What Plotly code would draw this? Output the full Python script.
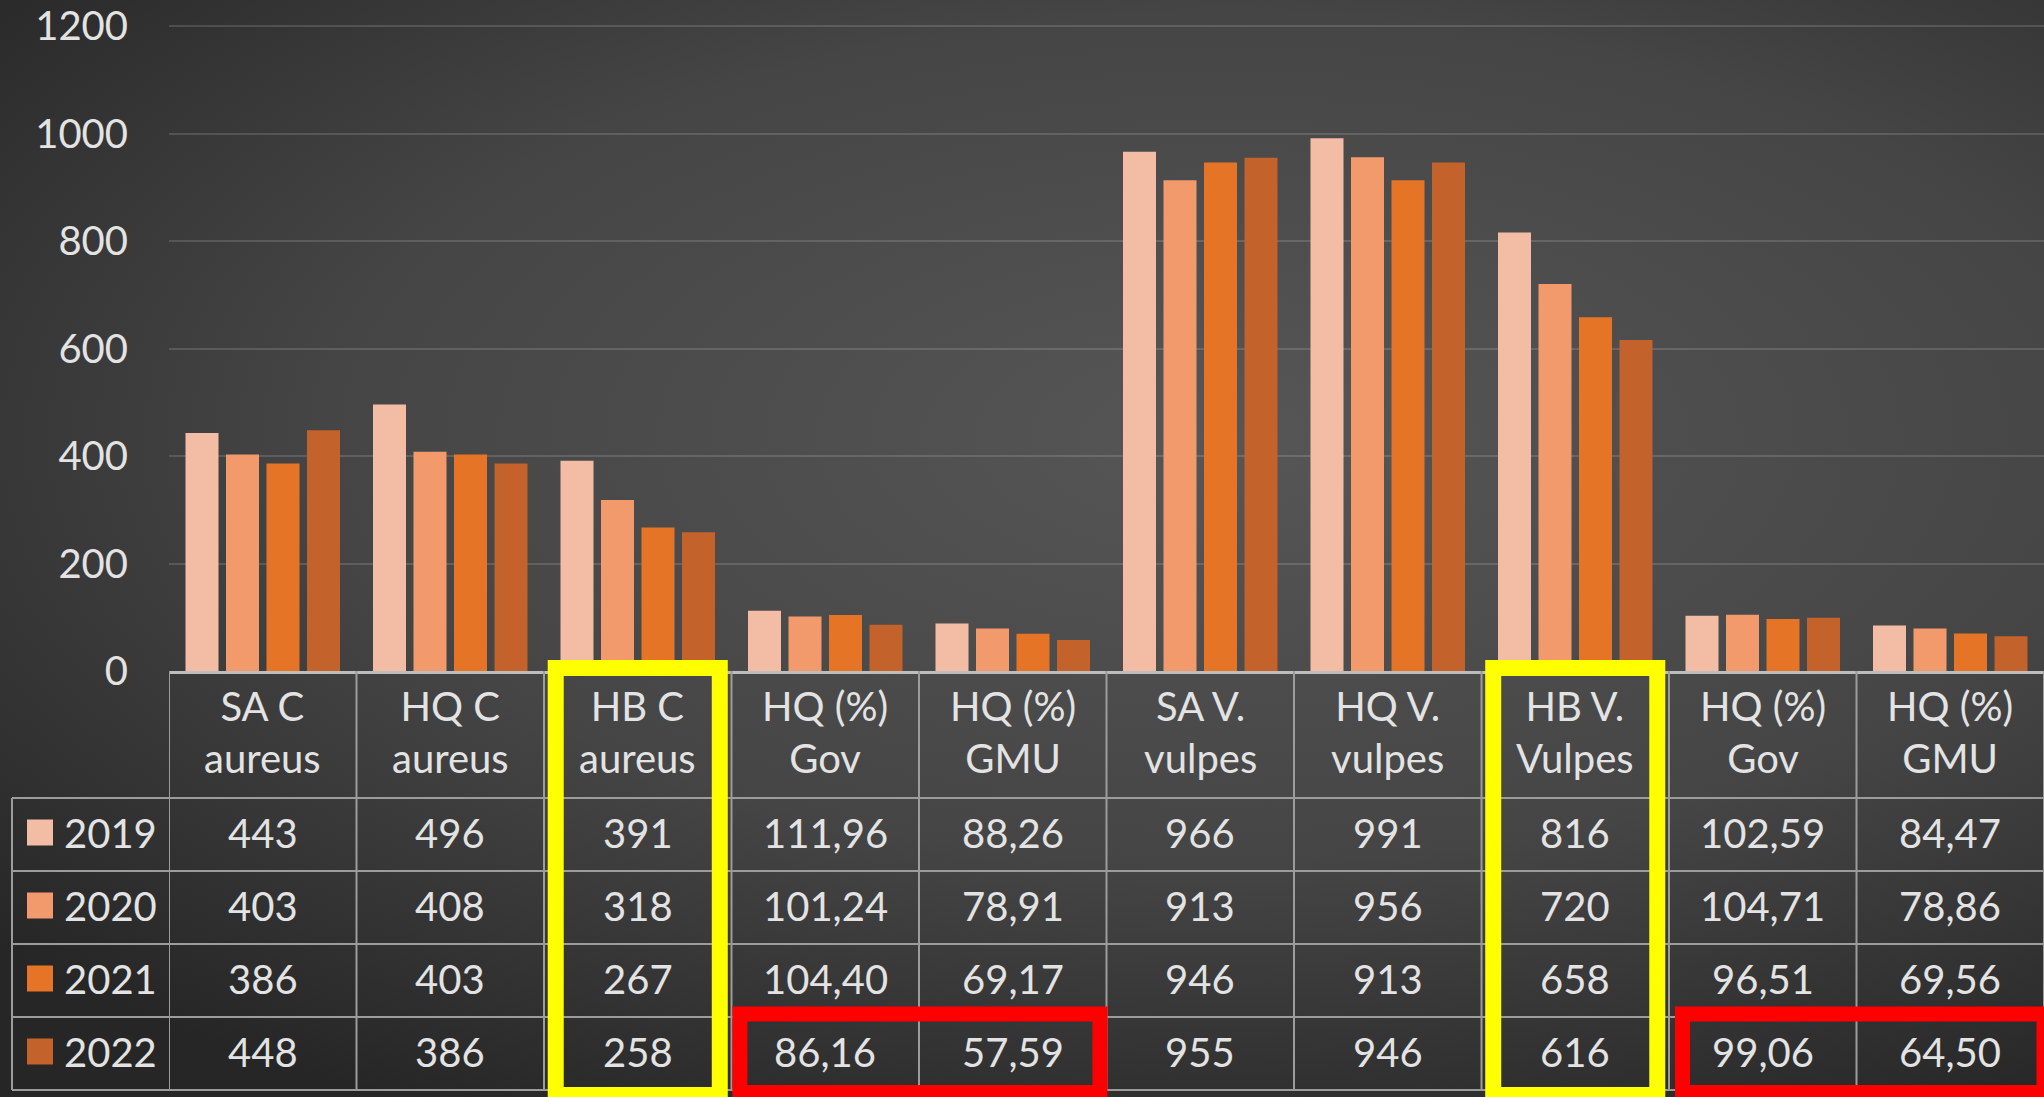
import plotly.graph_objects as go

# ---------------- data ----------------
categories = ["SA C<br>aureus", "HQ C<br>aureus", "HB C<br>aureus", "HQ (%)<br>Gov", "HQ (%)<br>GMU",
              "SA V.<br>vulpes", "HQ V.<br>vulpes", "HB V.<br>Vulpes", "HQ (%)<br>Gov", "HQ (%)<br>GMU"]
decimals = [0, 0, 0, 2, 2, 0, 0, 0, 2, 2]
years = ["2019", "2020", "2021", "2022"]
v2019 = [443, 496, 391, 111.96, 88.26, 966, 991, 816, 102.59, 84.47]
v2020 = [403, 408, 318, 101.24, 78.91, 913, 956, 720, 104.71, 78.86]
v2021 = [386, 403, 267, 104.40, 69.17, 946, 913, 658, 96.51, 69.56]
v2022 = [448, 386, 258, 86.16, 57.59, 955, 946, 616, 99.06, 64.50]
series = [v2019, v2020, v2021, v2022]
y_ticks = [0, 200, 400, 600, 800, 1000, 1200]
y_max = 1205
yellow_cols = [2, 7]

# ---------------- style ----------------
W, H = 2044, 1097
colors = ["#F3BDA5", "#F29A6C", "#E57427", "#C3622B"]
FONT = "Lato, 'Open Sans', sans-serif"
TXT = "#E3E3E3"
GRIDC = "#9C9C9C"
ZERO_PX, TOP_PX = 671, 26          # pixel rows of 0 and 1200
PX_PER_UNIT = (ZERO_PX - TOP_PX) / 1200


def py(p):
    return 1 - p / H


def px(p):
    return p / W


def fmt(v, d):
    if d == 0:
        return str(int(round(v)))
    return f"{v:.{d}f}".replace(".", ",")


fig = go.Figure()

# background gradient (separate full-page subplot)
fig.add_trace(go.Scatter(
    x=[-0.2, 1.4, 1.4, -0.2, -0.2], y=[-0.1, -0.1, 1.3, 1.3, -0.1],
    mode="lines", line=dict(width=0), fill="toself", fillcolor="#3c3c3c",
    fillgradient=dict(type="radial", colorscale=[[0, "#565656"], [0.55, "#454545"], [1, "#262626"]]),
    hoverinfo="skip", showlegend=False, xaxis="x", yaxis="y"))

x_idx = list(range(len(categories)))
for yr, vals, c in zip(years, series, colors):
    fig.add_trace(go.Bar(x=x_idx, y=vals, name=yr, marker=dict(color=c, line=dict(width=0)),
                         xaxis="x2", yaxis="y2", showlegend=False))

shapes = []
annotations = []

# table geometry (pixels)
header_top, header_bot = 671, 798
row_edges = [798, 871, 944, 1017, 1090]
left_px = 12

for e in row_edges:
    shapes.append(dict(type="line", xref="paper", yref="paper", x0=px(left_px), x1=1,
                       y0=py(e), y1=py(e), line=dict(color=GRIDC, width=2)))
for i in range(len(categories) + 1):
    shapes.append(dict(type="line", xref="x2", yref="paper", x0=i - 0.5, x1=i - 0.5,
                       y0=py(header_top), y1=py(row_edges[-1]), line=dict(color=GRIDC, width=2)))
shapes.append(dict(type="line", xref="paper", yref="paper", x0=px(left_px), x1=px(left_px),
                   y0=py(row_edges[0]), y1=py(row_edges[-1]), line=dict(color=GRIDC, width=2)))

# header text
for i, cat in enumerate(categories):
    annotations.append(dict(x=i, xref="x2", y=py((header_top + header_bot) / 2 - 3), yref="paper",
                            text=cat, showarrow=False, xanchor="center", yanchor="middle",
                            font=dict(family=FONT, size=40, color=TXT)))

# rows
for r, (yr, vals, c) in enumerate(zip(years, series, colors)):
    yc = (row_edges[r] + row_edges[r + 1]) / 2 - 2
    shapes.append(dict(type="rect", xref="paper", yref="paper", x0=px(27), x1=px(53),
                       y0=py(yc - 13), y1=py(yc + 13), fillcolor=c, line=dict(width=0)))
    annotations.append(dict(x=px(62), xref="paper", y=py(yc), yref="paper", text=yr,
                            showarrow=False, xanchor="left", yanchor="middle",
                            font=dict(family=FONT, size=40, color=TXT)))
    for i, v in enumerate(vals):
        annotations.append(dict(x=i, xref="x2", y=py(yc), yref="paper", text=fmt(v, decimals[i]),
                                showarrow=False, xanchor="center", yanchor="middle",
                                font=dict(family=FONT, size=40, color=TXT)))

# highlight boxes
for c in yellow_cols:
    shapes.append(dict(type="rect", xref="x2", yref="paper", x0=c - 0.4375, x1=c + 0.4375,
                       y0=py(1095), y1=py(668), line=dict(color="#FFFF00", width=16)))
shapes.append(dict(type="rect", xref="x2", yref="paper", x0=2.545, x1=4.465,
                   y0=py(1092.5), y1=py(1014), line=dict(color="#FF0000", width=15)))
shapes.append(dict(type="rect", xref="x2", yref="paper", x0=7.572, x1=9.5,
                   y0=py(1092.5), y1=py(1014), line=dict(color="#FF0000", width=15)))

top_domain_px = ZERO_PX - y_max * PX_PER_UNIT

fig.update_layout(
    width=W, height=H,
    margin=dict(l=0, r=0, t=0, b=0, pad=0, autoexpand=False),
    paper_bgcolor="#3a3a3a", plot_bgcolor="rgba(0,0,0,0)",
    font=dict(family=FONT, color=TXT),
    barmode="group", bargap=0.136, bargroupgap=0.185,
    xaxis=dict(domain=[0, 1], range=[0, 1], visible=False, fixedrange=True, automargin=False),
    yaxis=dict(domain=[0, 1], range=[0, 1], visible=False, fixedrange=True, automargin=False),
    xaxis2=dict(domain=[px(169), 1], range=[-0.5, 9.5], anchor="y2", showgrid=False,
                showticklabels=False, ticks="", showline=True, linecolor="#BDBDBD", linewidth=3,
                zeroline=False, automargin=False),
    yaxis2=dict(domain=[py(ZERO_PX), py(top_domain_px)], range=[0, y_max], anchor="x2",
                tickvals=y_ticks,
                showgrid=True, gridcolor="rgba(255,255,255,0.14)", gridwidth=2, zeroline=False,
                showline=False, ticks="", tickfont=dict(family=FONT, size=40, color=TXT),
                ticklabelstandoff=40, automargin=False),
    shapes=shapes, annotations=annotations, showlegend=False,
)

fig.write_html("out.html", config={"displayModeBar": False},
               post_script="document.body.style.margin='0';")
